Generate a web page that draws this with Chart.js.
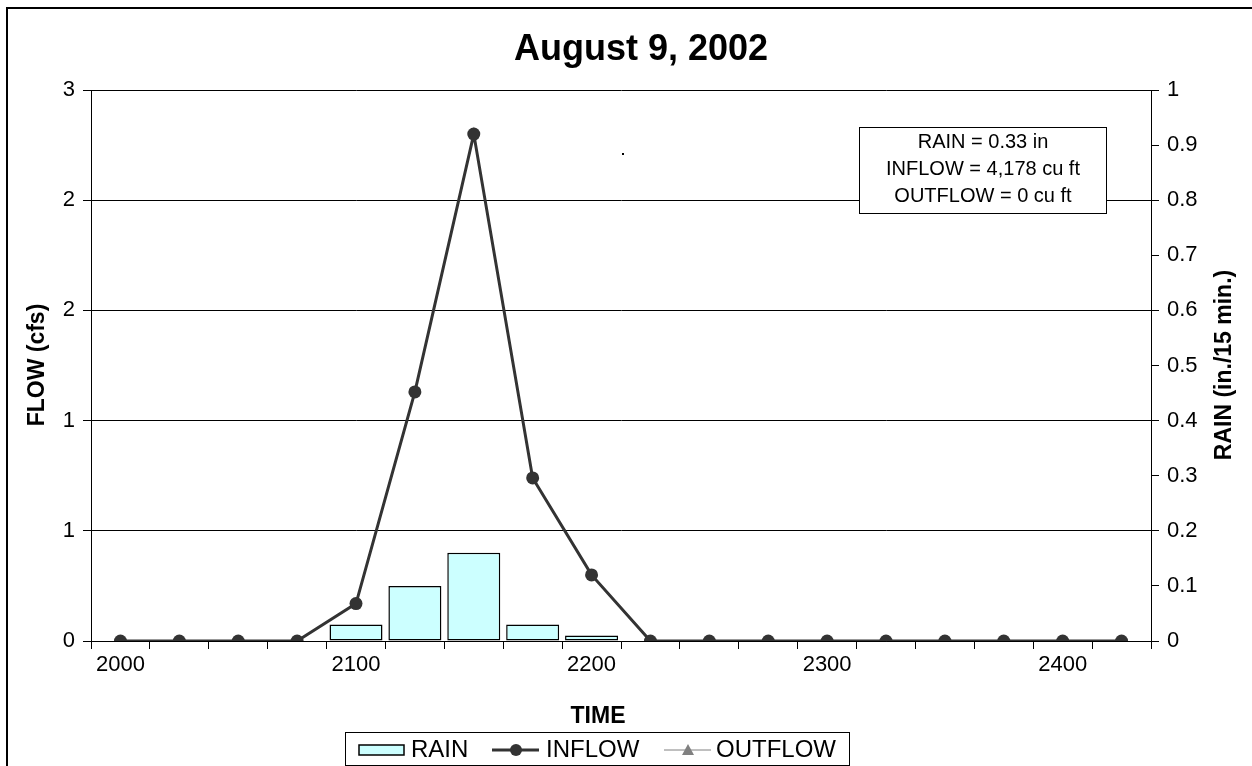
<!DOCTYPE html>
<html>
<head>
<meta charset="utf-8">
<title>August 9, 2002</title>
<script src="https://cdn.jsdelivr.net/npm/chart.js@4.4.1/dist/chart.umd.min.js"></script>
<style>
  html, body { margin: 0; padding: 0; background: #fff; }
  canvas { display: block; }
</style>
</head>
<body>
<canvas id="myChart" width="1252" height="766"></canvas>
<script>
// time of day (HHMM), one category every 15 minutes
var times = ['2000', '2015', '2030', '2045', '2100', '2115', '2130', '2145', '2200',
             '2215', '2230', '2245', '2300', '2315', '2330', '2345', '2400', '2415'];
// rain, in. per 15 min (right axis)
var rain = [0, 0, 0, 0, 0.03, 0.10, 0.16, 0.03, 0.01, 0, 0, 0, 0, 0, 0, 0, 0, 0];
// flows, cfs (left axis)
var inflow = [0, 0, 0, 0, 0.17, 1.13, 2.30, 0.74, 0.30, 0, 0, 0, 0, 0, 0, 0, 0, 0];
// no outflow recorded, nothing plotted
var outflow = [null, null, null, null, null, null, null, null, null,
               null, null, null, null, null, null, null, null, null];

var summary = ['RAIN = 0.33 in', 'INFLOW = 4,178 cu ft', 'OUTFLOW = 0 cu ft'];

var FONT = "'Liberation Sans', Arial, sans-serif";

// titles, legend, text box and frame drawn on top of the chart
var decor = {
  id: 'decor',
  afterDraw: function(chart) {
    var ctx = chart.ctx;
    ctx.save();
    // outer frame
    ctx.strokeStyle = '#000';
    ctx.lineWidth = 2;
    ctx.strokeRect(7, 8, 1300, 800);

    ctx.fillStyle = '#000';
    ctx.textAlign = 'center';
    ctx.textBaseline = 'middle';
    ctx.font = 'bold 36px ' + FONT;
    ctx.fillText('August 9, 2002', 641, 50);

    ctx.font = 'bold 23px ' + FONT;
    ctx.fillText('TIME', 598, 717);

    ctx.save();
    ctx.translate(38, 365);
    ctx.rotate(-Math.PI / 2);
    ctx.fillText('FLOW (cfs)', 0, 0);
    ctx.restore();

    ctx.save();
    ctx.translate(1225, 365);
    ctx.rotate(-Math.PI / 2);
    ctx.fillText('RAIN (in./15 min.)', 0, 0);
    ctx.restore();

    // stray dot in the original
    ctx.fillRect(622, 153, 2, 2);

    // summary box
    ctx.fillStyle = '#fff';
    ctx.fillRect(859, 127, 247, 86);
    ctx.lineWidth = 1;
    ctx.strokeStyle = '#000';
    ctx.strokeRect(859.5, 127.5, 247, 86);
    ctx.fillStyle = '#000';
    ctx.font = '20px ' + FONT;
    summary.forEach(function(s, i) {
      ctx.fillText(s, 983, 142 + i * 27);
    });

    // legend
    ctx.fillStyle = '#fff';
    ctx.fillRect(345, 732, 504, 33);
    ctx.strokeRect(345.5, 732.5, 504, 33);
    var ly = 750;
    ctx.fillStyle = '#CCFFFF';
    ctx.fillRect(359, ly - 5, 45, 10);
    ctx.lineWidth = 1.5;
    ctx.strokeRect(359, ly - 5, 45, 10);

    ctx.strokeStyle = '#333333';
    ctx.lineWidth = 3;
    ctx.beginPath(); ctx.moveTo(492, ly); ctx.lineTo(539, ly); ctx.stroke();
    ctx.fillStyle = '#333333';
    ctx.beginPath(); ctx.arc(516, ly, 6, 0, Math.PI * 2); ctx.fill();

    ctx.strokeStyle = '#808080';
    ctx.lineWidth = 1;
    ctx.beginPath(); ctx.moveTo(664, ly); ctx.lineTo(711, ly); ctx.stroke();
    ctx.fillStyle = '#808080';
    ctx.beginPath(); ctx.moveTo(688, ly - 6); ctx.lineTo(694, ly + 5); ctx.lineTo(682, ly + 5); ctx.closePath(); ctx.fill();

    ctx.fillStyle = '#000';
    ctx.textAlign = 'left';
    ctx.font = '24px ' + FONT;
    ctx.fillText('RAIN', 411, ly);
    ctx.fillText('INFLOW', 546, ly);
    ctx.fillText('OUTFLOW', 716, ly);
    ctx.restore();
  }
};

const myChartRef = document.getElementById('myChart').getContext('2d');
new Chart(myChartRef, {
  type: 'bar',
  data: {
    labels: times,
    datasets: [
      {
        type: 'line',
        label: 'INFLOW',
        data: inflow,
        yAxisID: 'y',
        borderColor: '#333333',
        backgroundColor: '#333333',
        borderWidth: 3,
        pointRadius: 6.5,
        pointBackgroundColor: '#333333',
        pointBorderWidth: 0,
        tension: 0,
        order: 0
      },
      {
        type: 'line',
        label: 'OUTFLOW',
        data: outflow,
        yAxisID: 'y',
        borderColor: '#808080',
        backgroundColor: '#808080',
        borderWidth: 1,
        pointStyle: 'triangle',
        pointRadius: 4,
        order: 1
      },
      {
        type: 'bar',
        label: 'RAIN',
        data: rain,
        yAxisID: 'y2',
        backgroundColor: '#CCFFFF',
        borderColor: '#000',
        borderWidth: 1.5,
        borderSkipped: false,
        barPercentage: 0.9,
        categoryPercentage: 1.0,
        order: 2
      }
    ]
  },
  options: {
    responsive: false,
    animation: false,
    layout: { padding: { top: 90, left: 0, right: 0, bottom: 0 } },
    plugins: {
      legend: { display: false },
      title: { display: false },
      tooltip: { enabled: false }
    },
    scales: {
      x: {
        offset: true,
        grid: { offset: true, drawOnChartArea: false, color: '#000', tickLength: 8 },
        border: { color: '#000', width: 1 },
        ticks: {
          autoSkip: false,
          maxRotation: 0,
          padding: 3,
          color: '#000',
          font: { family: FONT, size: 22 },
          callback: function(v, i) { return i % 4 === 0 ? times[i] : ''; }
        },
        afterFit: function(s) { s.height = 125; }
      },
      y: {
        position: 'left',
        min: 0,
        max: 2.5,
        grid: { color: '#000', tickLength: 8 },
        border: { color: '#000', width: 1 },
        ticks: {
          stepSize: 0.5,
          padding: 8,
          color: '#000',
          font: { family: FONT, size: 22 },
          callback: function(v) { return Math.round(v); }
        },
        afterFit: function(s) { s.width = 91; }
      },
      y2: {
        position: 'right',
        min: 0,
        max: 1,
        grid: { drawOnChartArea: false, color: '#000', tickLength: 8 },
        border: { color: '#000', width: 1 },
        ticks: {
          stepSize: 0.1,
          padding: 8,
          color: '#000',
          font: { family: FONT, size: 22 },
          callback: function(v) { return String(+v.toFixed(1)); }
        },
        afterFit: function(s) { s.width = 101; }
      }
    }
  },
  plugins: [decor]
});
</script>
</body>
</html>
